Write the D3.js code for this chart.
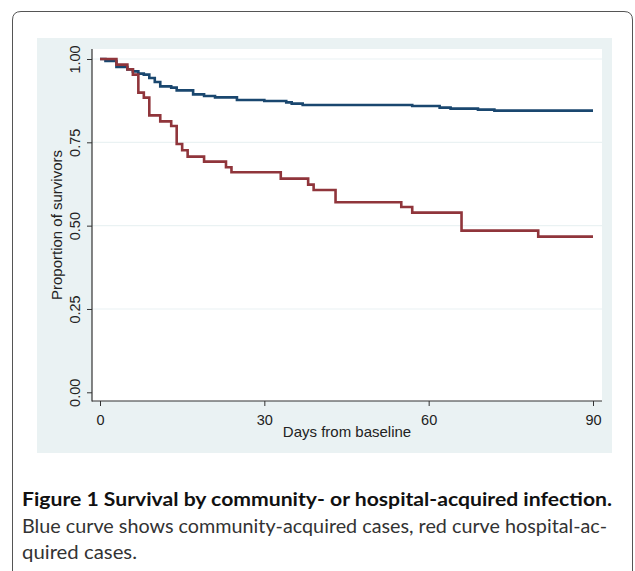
<!DOCTYPE html>
<html>
<head>
<meta charset="utf-8">
<script src="https://cdn.jsdelivr.net/npm/d3@7"></script>
<style>
  html, body { margin: 0; padding: 0; background: #fff; }
  svg { display: block; }
</style>
</head>
<body>
<svg id="chart" width="635" height="571"></svg>
<script>
// Kaplan-Meier steps (days, proportion surviving)
const commTimes = [0, 1, 3, 5, 6, 7, 8, 9, 10, 11, 13, 14, 17, 19, 21, 25, 30, 34, 35, 37, 57, 62, 64, 69, 72, 90];
const commSurv  = [1.0, 0.994, 0.976, 0.969, 0.963, 0.956, 0.953, 0.943, 0.931, 0.918, 0.914, 0.906, 0.894, 0.889, 0.885, 0.877, 0.874, 0.870, 0.866, 0.862, 0.859, 0.854, 0.851, 0.848, 0.845, 0.845];

const hospTimes = [0, 3, 5, 6, 7, 8, 9, 11, 13, 14, 15, 16, 19, 23, 24, 33, 38, 39, 43, 55, 57, 66, 80, 90];
const hospSurv  = [1.0, 0.983, 0.969, 0.953, 0.899, 0.884, 0.831, 0.813, 0.799, 0.745, 0.726, 0.707, 0.692, 0.675, 0.660, 0.641, 0.623, 0.607, 0.570, 0.556, 0.539, 0.485, 0.467, 0.467];

const xTicks = [0, 30, 60, 90];
const yTicks = [0, 0.25, 0.5, 0.75, 1];
const gridTicks = [0.25, 0.5, 0.75, 1];

const captionTitle = "Figure 1 Survival by community- or hospital-acquired infection.";
const captionLines = ["Blue curve shows community-acquired cases, red curve hospital-ac-", "quired cases."];

const svg = d3.select("#chart");

// outer frame of the figure box
svg.append("path")
  .attr("d", "M12.5,571 V20 Q12.5,11.5 21,11.5 H624 Q632.5,11.5 632.5,20 V571")
  .attr("fill", "none")
  .attr("stroke", "#555")
  .attr("stroke-width", 1);

// stata graph region + plot region
svg.append("rect").attr("x", 37).attr("y", 38).attr("width", 575).attr("height", 415).attr("fill", "#eaf2f3");
const plot = {left: 92, right: 602, top: 49, bottom: 401};
svg.append("rect")
  .attr("x", plot.left).attr("y", plot.top)
  .attr("width", plot.right - plot.left).attr("height", plot.bottom - plot.top)
  .attr("fill", "#fff");

const x = d3.scaleLinear().domain([0, 90]).range([100, 593]);
const y = d3.scaleLinear().domain([0, 1]).range([392.3, 59]);

// grid
svg.append("g")
  .selectAll("line")
  .data(gridTicks)
  .join("line")
  .attr("x1", plot.left).attr("x2", plot.right)
  .attr("y1", d => y(d)).attr("y2", d => y(d))
  .attr("stroke", "#eaf2f3")
  .attr("stroke-width", 1.2);

// y axis
const yAxis = svg.append("g")
  .attr("transform", "translate(" + plot.left + ",0)")
  .call(d3.axisLeft(y).tickValues(yTicks).tickSize(5).tickFormat(d3.format(".2f")));
yAxis.select(".domain").remove();
yAxis.selectAll(".tick line").attr("stroke", "#333");
yAxis.selectAll(".tick text")
  .attr("x", null).attr("dy", null)
  .attr("transform", "translate(-12,0) rotate(-90)")
  .attr("text-anchor", "middle")
  .attr("font-family", "Liberation Sans, Arial, sans-serif")
  .attr("font-size", 14.5)
  .attr("fill", "#222");

// x axis
const xAxis = svg.append("g")
  .attr("transform", "translate(0," + plot.bottom + ")")
  .call(d3.axisBottom(x).tickValues(xTicks).tickSize(5));
xAxis.select(".domain").remove();
xAxis.selectAll(".tick line").attr("stroke", "#333");
xAxis.selectAll(".tick text")
  .attr("y", 24).attr("dy", null)
  .attr("font-family", "Liberation Sans, Arial, sans-serif")
  .attr("font-size", 14.5)
  .attr("fill", "#222");

// axis lines over the full plot region
svg.append("line").attr("x1", plot.left).attr("x2", plot.left).attr("y1", plot.top).attr("y2", plot.bottom + 0.5)
  .attr("stroke", "#333").attr("stroke-width", 1.2);
svg.append("line").attr("x1", plot.left).attr("x2", plot.right).attr("y1", plot.bottom).attr("y2", plot.bottom)
  .attr("stroke", "#333").attr("stroke-width", 1.2);

// axis titles
svg.append("text")
  .attr("x", 347).attr("y", 437)
  .attr("text-anchor", "middle")
  .attr("font-family", "Liberation Sans, Arial, sans-serif")
  .attr("font-size", 15)
  .attr("fill", "#222")
  .text("Days from baseline");

svg.append("text")
  .attr("transform", "translate(62,225) rotate(-90)")
  .attr("text-anchor", "middle")
  .attr("font-family", "Liberation Sans, Arial, sans-serif")
  .attr("font-size", 15)
  .attr("fill", "#222")
  .text("Proportion of survivors");

// survival curves
const line = d3.line()
  .x(d => x(d[0]))
  .y(d => y(d[1]))
  .curve(d3.curveStepAfter);

const series = [
  {times: commTimes, surv: commSurv, color: "#1a476f"},
  {times: hospTimes, surv: hospSurv, color: "#90353b"}
];

svg.append("g")
  .selectAll("path")
  .data(series)
  .join("path")
  .attr("d", s => line(d3.zip(s.times, s.surv)))
  .attr("fill", "none")
  .attr("stroke", s => s.color)
  .attr("stroke-width", 2.6)
  .attr("stroke-linejoin", "miter");

// caption
svg.append("text")
  .attr("x", 22).attr("y", 506)
  .attr("font-family", "Lato, sans-serif")
  .attr("font-weight", "bold")
  .attr("font-size", 19.5)
  .attr("fill", "#111")
  .attr("textLength", 590)
  .attr("lengthAdjust", "spacingAndGlyphs")
  .text(captionTitle);

svg.append("g")
  .selectAll("text")
  .data(captionLines)
  .join("text")
  .attr("x", 22)
  .attr("y", (d, i) => 533 + i * 26)
  .attr("font-family", "Lato, sans-serif")
  .attr("font-size", 19.5)
  .attr("fill", "#333")
  .attr("textLength", (d, i) => i == 0 ? 585 : 115)
  .attr("lengthAdjust", "spacingAndGlyphs")
  .text(d => d);
</script>
</body>
</html>
